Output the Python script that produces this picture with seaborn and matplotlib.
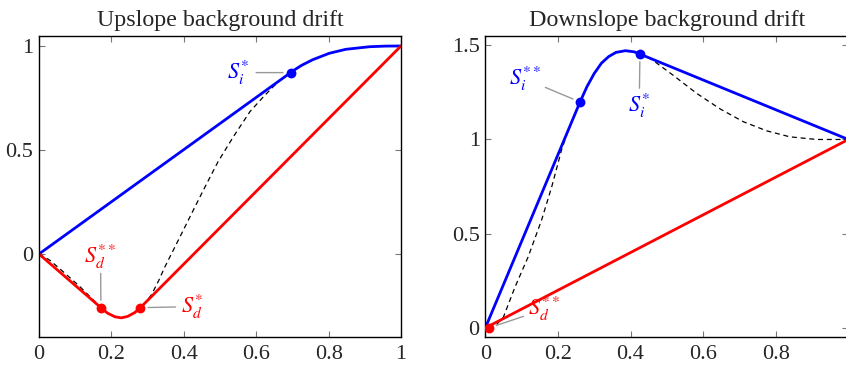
import matplotlib
matplotlib.use("Agg")
import matplotlib.pyplot as plt
import seaborn as sns

sns.set_style("ticks")
plt.rcParams['font.family'] = ['Liberation Serif', 'DejaVu Serif']
plt.rcParams['mathtext.fontset'] = 'stix'
plt.rcParams['font.size'] = 16

BLUE = '#0000ff'
RED = '#ff0000'
GREY = '#999999'

# Upslope panel
up_blue_x = [0, 0.695, 0.71, 0.7255, 0.756, 0.802, 0.8475, 0.9135, 0.959, 1.0]
up_blue_y = [0, 0.872, 0.890, 0.907, 0.934, 0.965, 0.984, 0.9965, 0.9995, 1.0]
up_red_x = [0, 0.171, 0.19, 0.21, 0.227, 0.245, 0.265, 0.28, 1.0]
up_red_y = [0, -0.258, -0.285, -0.302, -0.307, -0.300, -0.281, -0.258, 1.0]
up_dash_x = [0, 0.03, 0.07, 0.113, 0.15, 0.171, 0.19, 0.21, 0.227, 0.245, 0.265,
             0.28, 0.295, 0.311, 0.33, 0.348, 0.385, 0.422, 0.459, 0.495, 0.537,
             0.583, 0.62, 0.643, 0.66]
up_dash_y = [0, -0.03, -0.09, -0.157, -0.221, -0.258, -0.285, -0.302, -0.307, -0.300, -0.281,
             -0.258, -0.232, -0.195, -0.13, -0.061, 0.067, 0.196, 0.324, 0.445, 0.564,
             0.685, 0.756, 0.797, 0.826]
up_red_pts_x = [0.171, 0.28]
up_red_pts_y = [-0.258, -0.258]
up_blue_pts_x = [0.695]
up_blue_pts_y = [0.872]

# Downslope panel
down_blue_x = [0, 0.261, 0.28, 0.30, 0.32, 0.34, 0.36, 0.386, 0.41, 0.426, 1.0]
down_blue_y = [0, 1.199, 1.28, 1.35, 1.405, 1.44, 1.462, 1.471, 1.465, 1.453, 1.0]
down_red_x = [0, 1.0]
down_red_y = [0, 1.0]
down_dash1_x = [0.01, 0.027, 0.05, 0.082, 0.118, 0.155, 0.183, 0.21, 0.225, 0.232]
down_dash1_y = [0.0, 0.01, 0.058, 0.218, 0.377, 0.572, 0.749, 0.944, 1.03, 1.065]
down_dash2_x = [0.426, 0.454, 0.518, 0.582, 0.647, 0.711, 0.775, 0.839, 0.913, 0.986, 1.0]
down_dash2_y = [1.453, 1.431, 1.34, 1.245, 1.162, 1.094, 1.046, 1.014, 1.0, 1.0, 1.0]
down_blue_pts_x = [0.261, 0.426]
down_blue_pts_y = [1.199, 1.453]
down_red_pts_x = [0.01]
down_red_pts_y = [0.0]

x_ticks = [0, 0.2, 0.4, 0.6, 0.8, 1]
x_labels = ['0', '0.2', '0.4', '0.6', '0.8', '1']
up_y_ticks = [0, 0.5, 1]
up_y_labels = ['0', '0.5', '1']
down_y_ticks = [0, 0.5, 1, 1.5]
down_y_labels = ['0', '0.5', '1', '1.5']

# labels: (text, colour, label xy, point xy, shrink at label)
up_notes = [(r'$S_i^{*}$', BLUE, (0.55, 0.872), (0.695, 0.872), 13),
            (r'$S_d^{**}$', RED, (0.170, -0.013), (0.171, -0.258), 12),
            (r'$S_d^{*}$', RED, (0.423, -0.253), (0.28, -0.258), 12)]
down_notes = [(r'$S_i^{**}$', BLUE, (0.109, 1.322), (0.261, 1.199), 16),
              (r'$S_i^{*}$', BLUE, (0.424, 1.176), (0.426, 1.453), 13),
              (r'$S_d^{**}$', RED, (0.163, 0.099), (0.01, 0.0), 16)]

fig = plt.figure(figsize=(8.46, 3.67), dpi=100)
ax1 = fig.add_axes([39 / 846, 30 / 367, 362 / 846, 301 / 367])
ax2 = fig.add_axes([485.3 / 846, 30 / 367, 363 / 846, 301 / 367])


def draw(ax, lines, pts, notes):
    for lx, ly, col, ls, lw in lines:
        sns.lineplot(x=lx, y=ly, ax=ax, color=col, linestyle=ls, linewidth=lw,
                     sort=False, estimator=None, zorder=2 if ls == '-' else 1)
    for px, py, col in pts:
        sns.scatterplot(x=px, y=py, ax=ax, color=col, s=50, edgecolor=col,
                        linewidth=0, zorder=4)
    for txt, col, xyt, xy, sa in notes:
        ax.annotate(txt, xy=xy, xytext=xyt, ha='center', va='center',
                    color=col, fontsize=16,
                    arrowprops=dict(arrowstyle='-', color=GREY, lw=1.0,
                                    shrinkA=sa, shrinkB=5.5, patchA=None))


draw(ax1,
     [(up_dash_x, up_dash_y, 'black', (0, (4, 3)), 0.9),
      (up_blue_x, up_blue_y, BLUE, '-', 2.0),
      (up_red_x, up_red_y, RED, '-', 2.0)],
     [(up_red_pts_x, up_red_pts_y, RED), (up_blue_pts_x, up_blue_pts_y, BLUE)],
     up_notes)
draw(ax2,
     [(down_dash1_x, down_dash1_y, 'black', (0, (4, 3)), 0.9),
      (down_dash2_x, down_dash2_y, 'black', (0, (4, 3)), 0.9),
      (down_blue_x, down_blue_y, BLUE, '-', 2.0),
      (down_red_x, down_red_y, RED, '-', 2.0)],
     [(down_blue_pts_x, down_blue_pts_y, BLUE), (down_red_pts_x, down_red_pts_y, RED)],
     down_notes)

ax1.set_xlim(0, 1)
ax1.set_ylim(-0.399, 1.048)
ax1.set_yticks(up_y_ticks, up_y_labels)
ax1.set_title('Upslope background drift', fontsize=17.3, pad=7)

ax2.set_xlim(0, 1)
ax2.set_ylim(-0.048, 1.549)
ax2.set_yticks(down_y_ticks, down_y_labels)
ax2.set_title('Downslope background drift', fontsize=17.3, pad=7)

for ax in (ax1, ax2):
    ax.set_xticks(x_ticks, x_labels)
    ax.set_xlabel('')
    ax.set_ylabel('')
    ax.tick_params(direction='in', top=True, right=True, length=4.5,
                   width=0.8, color='#777777', labelsize=16)
    ax.tick_params(axis='x', pad=6)
    ax.tick_params(axis='y', pad=4)
    for sp in ax.spines.values():
        sp.set_visible(True)
        sp.set_color('black')
        sp.set_linewidth(1.0)

fig.savefig('out.png', dpi=100)
